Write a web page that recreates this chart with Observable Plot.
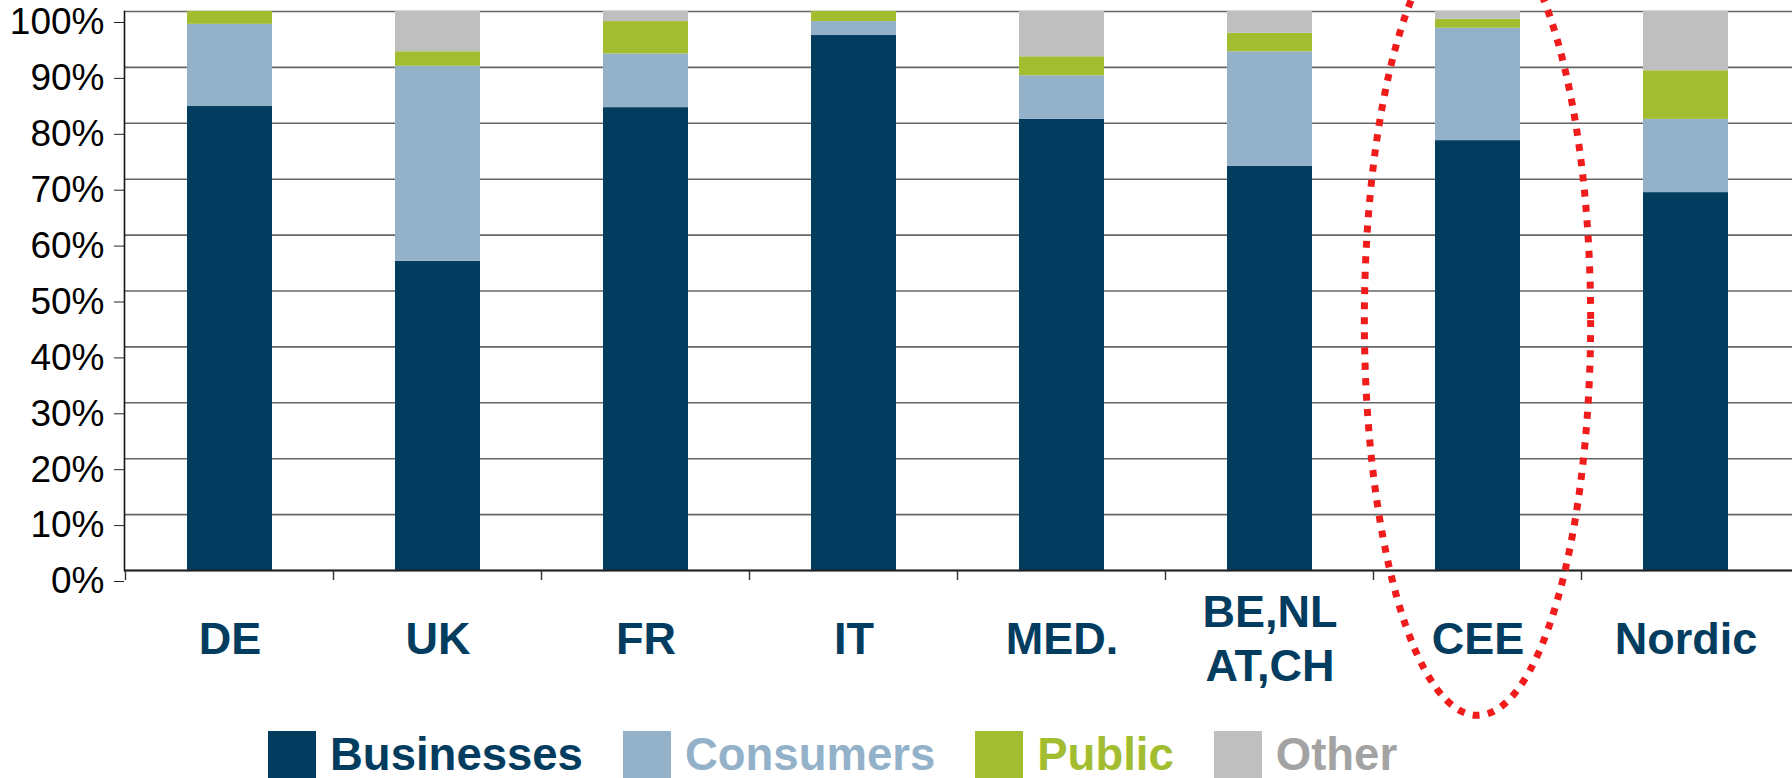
<!DOCTYPE html>
<html>
<head>
<meta charset="utf-8">
<script src="https://cdn.jsdelivr.net/npm/d3@7"></script>
<script src="https://cdn.jsdelivr.net/npm/@observablehq/plot@0.6"></script>
<style>
  html, body { margin: 0; padding: 0; background: #fff; overflow: hidden; }
  body { width: 1792px; height: 778px; font-family: "Liberation Sans", Arial, sans-serif; }
  #chart svg { display: block; }
  #legend { display: flex; align-items: flex-start; padding-left: 268px; height: 50px; }
  #legend .item { display: flex; align-items: flex-start; margin-right: 40px; }
  #legend .sw { width: 48px; height: 48px; margin-top: 3px; margin-right: 14px; }
  #legend .lb { font-weight: bold; font-size: 45.5px; line-height: 1; margin-top: 4px; }
</style>
</head>
<body>
<div id="chart"></div>
<div id="legend"></div>
<script>
// ---- data ----
const categories = ["DE", "UK", "FR", "IT", "MED.", "BE,NL\nAT,CH", "CEE", "Nordic"];
const segments = ["Businesses", "Consumers", "Public", "Other"];
const businesses   = [83.0, 55.3, 82.8, 95.7, 80.7, 72.3, 76.9, 67.6];
const consumers    = [14.7, 34.9,  9.6,  2.5,  7.8, 20.5, 20.1, 13.1];
const publicSector = [ 2.3,  2.6,  5.8,  1.8,  3.4,  3.3,  1.6,  8.7];
const other        = [ 0.0,  7.2,  1.8,  0.0,  8.1,  3.9,  1.4, 10.6];
const yTicks = [0, 10, 20, 30, 40, 50, 60, 70, 80, 90, 100];
const colors = ["#023c5f", "#94b1ca", "#a3bd31", "#bfbfbf"];
const legendTextColors = ["#023c5f", "#94b1ca", "#a3bd31", "#a3a3a3"];
// highlighted category (dotted ellipse): centre at 44.7 %, vertical half-extent 70.7 %
const highlight = ["CEE"];
const highlightCenter = [44.7];
const highlightHalfHeight = [70.7];

const seriesValues = [businesses, consumers, publicSector, other];
const rows = [];
categories.forEach((c, i) => {
  segments.forEach((s, j) => rows.push({category: c, segment: s, value: seriesValues[j][i]}));
});

const W = 1792, H = 728;
const chart = Plot.plot({
  width: W,
  height: H,
  marginLeft: 124,
  marginRight: 0,
  marginTop: 11,
  marginBottom: 158,
  style: {fontFamily: "'Liberation Sans', Arial, sans-serif", background: "#fff"},
  x: {domain: categories, paddingInner: 0.59, paddingOuter: 0.295, axis: null},
  y: {domain: [0, 100], axis: null},
  color: {domain: segments, range: colors},
  marks: [
    Plot.gridY(yTicks, {stroke: "#666", strokeOpacity: 1, strokeWidth: 1.6}),
    Plot.barY(rows, {x: "category", y: "value", fill: "segment", order: segments}),
    Plot.ruleY([0], {stroke: "#222", strokeWidth: 2}),
    Plot.frame({anchor: "left", stroke: "#111", strokeWidth: 1.6}),
    Plot.axisY({ticks: yTicks, tickFormat: d => d + "%", tickSize: 10, tickPadding: 10,
      fontSize: 37, fill: "#000", stroke: "#222", dy: 11, label: null}),
    Plot.axisX({tickSize: 0, tickPadding: 66, lineAnchor: "middle", lineHeight: 1.2,
      fontSize: 45, fontWeight: "bold", fill: "#023c5f", label: null}),
  ]
});

// category boundary ticks under the baseline, and the highlight ellipse
{
  const xs = chart.scale("x");
  const ys = chart.scale("y");
  const svg = d3.select(chart);
  const g = svg.append("g").attr("stroke", "#333").attr("stroke-width", 1.4);
  categories.forEach(c => {
    const bx = xs.apply(c) + xs.bandwidth / 2 - xs.step / 2;
    g.append("line").attr("x1", bx).attr("x2", bx).attr("y1", ys.apply(0)).attr("y2", ys.apply(0) + 10);
  });
  highlight.forEach((c, i) => {
    const cx = xs.apply(c) + xs.bandwidth / 2;
    const cy = ys.apply(highlightCenter[i]);
    const ry = ys.apply(0) - ys.apply(highlightHalfHeight[i]);
    const rx = xs.step * 0.544;
    svg.append("ellipse")
      .attr("cx", cx).attr("cy", cy).attr("rx", rx).attr("ry", ry)
      .attr("fill", "none").attr("stroke", "#f01c1c")
      .attr("stroke-width", 7).attr("stroke-dasharray", "7 8.3");
  });
}
document.getElementById("chart").appendChild(chart);

// legend
const legend = document.getElementById("legend");
segments.forEach((s, i) => {
  const item = document.createElement("div");
  item.className = "item";
  const sw = document.createElement("div");
  sw.className = "sw";
  sw.style.background = colors[i];
  const lb = document.createElement("div");
  lb.className = "lb";
  lb.style.color = legendTextColors[i];
  lb.textContent = s;
  item.appendChild(sw);
  item.appendChild(lb);
  legend.appendChild(item);
});
</script>
</body>
</html>
